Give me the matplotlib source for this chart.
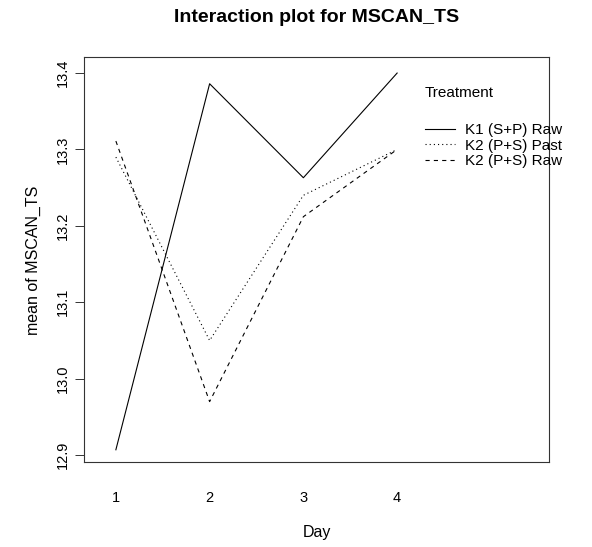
import matplotlib
matplotlib.use("Agg")
import matplotlib.pyplot as plt

plt.rcParams["font.family"] = ["Liberation Sans", "DejaVu Sans"]
plt.rcParams["lines.scale_dashes"] = False

days = [1, 2, 3, 4]
day_labels = ["1", "2", "3", "4"]
treatments = ["K1 (S+P) Raw", "K2 (P+S) Past", "K2 (P+S) Raw"]
k1_sp_raw = [12.907, 13.386, 13.263, 13.400]
k2_ps_past = [13.290, 13.050, 13.240, 13.300]
k2_ps_raw = [13.311, 12.970, 13.212, 13.300]
styles = ["-", (0, (0.8, 2.2)), (0, (3, 3))]

W, H = 592, 547
fig = plt.figure(figsize=(W / 100, H / 100), dpi=100)
ax = fig.add_axes([84 / W, 1 - 462 / H, (549 - 84) / W, (462 - 57) / H])

for vals, lab, ls in zip([k1_sp_raw, k2_ps_past, k2_ps_raw], treatments, styles):
    ax.plot(days, vals, color="black", lw=0.8, linestyle=ls, label=lab)

ax.set_xlim(0.66, 5.62)
ax.set_ylim(12.891, 13.421)
ax.set_xticks(days)
ax.set_xticklabels(day_labels)
ax.set_yticks([12.9, 13.0, 13.1, 13.2, 13.3, 13.4])
ax.set_yticklabels(["12.9", "13.0", "13.1", "13.2", "13.3", "13.4"],
                   rotation=90, va="center")
ax.tick_params(axis="x", length=0, pad=21, labelsize=10.5)
ax.tick_params(axis="y", length=6.5, width=0.7, pad=4, labelsize=10.5, color="#333333")
for s in ax.spines.values():
    s.set_linewidth(0.8)
    s.set_color("#333333")

fig.text(0.5 * (84 + 549) / W, 1 - 17 / H, "Interaction plot for MSCAN_TS",
         ha="center", va="center", fontsize=14, fontweight="bold")
fig.text((84 + 549) / 2 / W, 1 - 533 / H, "Day", ha="center", va="center", fontsize=11.5)
fig.text(33 / W, 1 - 260 / H, "mean of MSCAN_TS", ha="center", va="center",
         rotation=90, fontsize=11.5)

fig.text(425 / W, 1 - 93 / H, "Treatment", ha="left", va="center", fontsize=11)
leg = ax.legend(loc="upper left", bbox_to_anchor=(425 / W, 1 - 123 / H),
                bbox_transform=fig.transFigure, frameon=False, fontsize=11,
                handlelength=1.96, handletextpad=0.65, labelspacing=0.1,
                borderpad=0, borderaxespad=0)
for t in leg.get_texts():
    t.set_clip_on(False)

fig.savefig("out.png", dpi=100)
